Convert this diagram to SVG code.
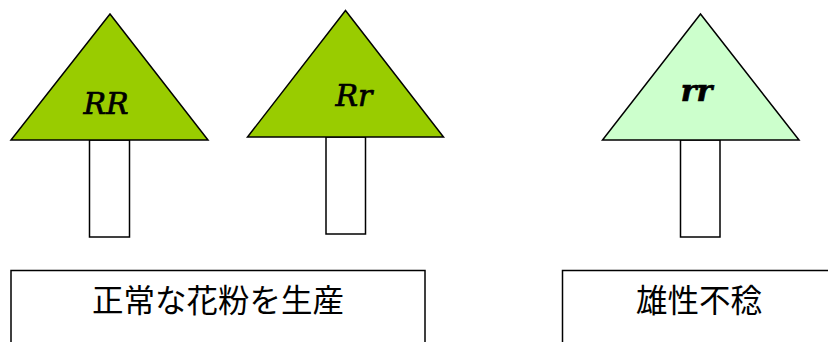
<svg xmlns="http://www.w3.org/2000/svg" width="828" height="342" viewBox="0 0 828 342">
<style>
.tri{stroke:#000;stroke-width:1.5;stroke-linejoin:miter}
.dark{fill:#99CC00}
.light{fill:#CCFFCC}
.trunk{fill:#fff;stroke:#000;stroke-width:1.5}
.lab{font-family:"DejaVu Serif","Liberation Serif",serif;font-style:italic;font-size:30px;fill:#000;text-anchor:middle;stroke:#000;stroke-width:0.7}
.box{fill:#fff;stroke:#000;stroke-width:1.5}
.jp{font-family:"Noto Sans CJK JP","Noto Sans CJK SC",sans-serif;font-size:31.5px;fill:#000;text-anchor:middle}
</style>
<rect width="828" height="342" fill="#fff"/>
<g id="tree-RR">
<rect class="trunk" x="89.5" y="140" width="40" height="97"/>
<polygon class="tri dark" points="110,14 208,140 11,140"/>
<text class="lab" x="106" y="114">RR</text>
</g>
<g id="tree-Rr">
<rect class="trunk" x="326" y="137" width="39.5" height="97"/>
<polygon class="tri dark" points="345.5,10.5 443.5,137 247.5,137"/>
<text class="lab" x="354" y="106">Rr</text>
</g>
<g id="tree-rr">
<rect class="trunk" x="680.5" y="140" width="39.5" height="97"/>
<polygon class="tri light" points="700.5,14 799,140 602.5,140"/>
<text class="lab" x="696.5" y="101" font-size="28" stroke-width="0.3" font-weight="bold">rr</text>
</g>
<g id="box-normal">
<rect class="box" x="11" y="270.5" width="414" height="90"/>
<text class="jp" x="218" y="312">正常な花粉を生産</text>
</g>
<g id="box-sterile">
<rect class="box" x="562.5" y="270.5" width="300" height="90"/>
<text class="jp" x="699" y="312">雄性不稔</text>
</g>
<g id="connectors"></g>
</svg>
